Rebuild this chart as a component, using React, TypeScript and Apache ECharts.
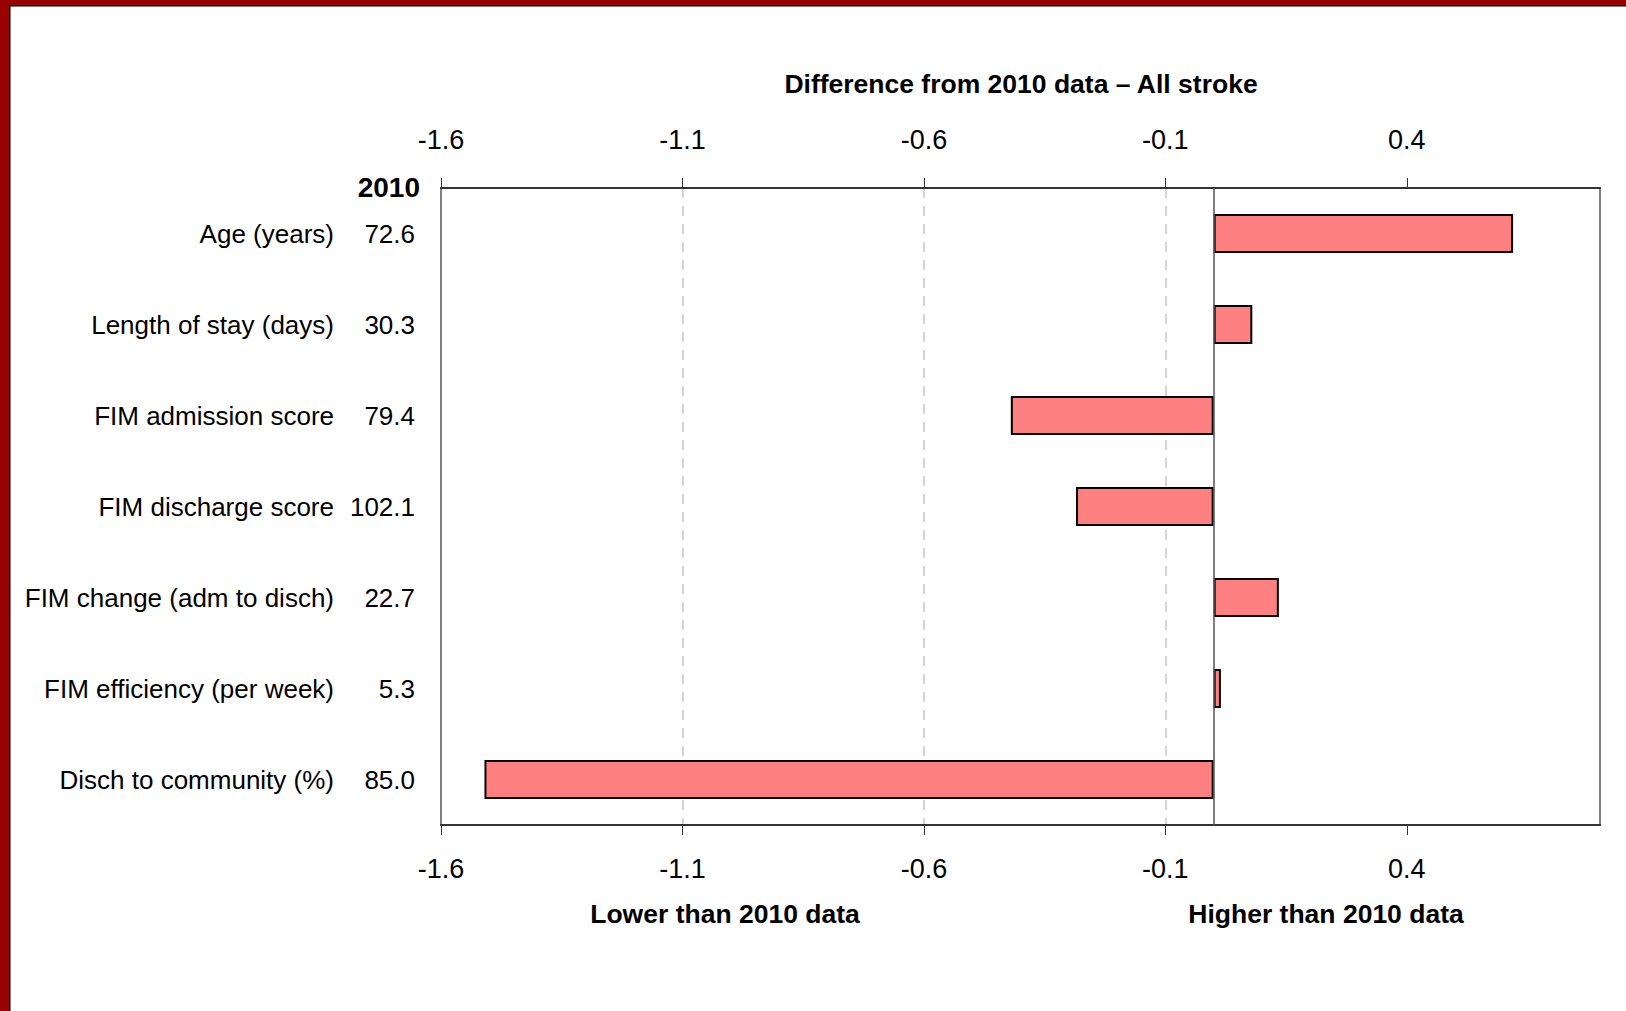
import React, { useEffect, useRef } from "react";
import * as echarts from "echarts";

const categories = [
  "Age (years)",
  "Length of stay (days)",
  "FIM admission score",
  "FIM discharge score",
  "FIM change (adm to disch)",
  "FIM efficiency (per week)",
  "Disch to community (%)",
];
const values2010 = ["72.6", "30.3", "79.4", "102.1", "22.7", "5.3", "85.0"];
const differences = [0.62, 0.08, -0.42, -0.285, 0.135, 0.015, -1.51];
const tickValues = [-1.6, -1.1, -0.6, -0.1, 0.4];
const axisMin = -1.6;
const axisMax = 0.8;

const FONT = "'Liberation Sans', Arial, sans-serif";

export default function App() {
  const ref = useRef<HTMLDivElement>(null);
  useEffect(() => {
    if (!ref.current) return;
    const chart = echarts.init(ref.current, null, { renderer: "svg" });
    const xBase = (position: string, withSplit: boolean, margin: number) => ({
      type: "value",
      position,
      min: axisMin,
      max: axisMax,
      axisLine: { show: true, onZero: false, lineStyle: { color: "#333", width: 2 } },
      axisTick: { show: true, customValues: tickValues, length: 10, lineStyle: { color: "#333", width: 1 } },
      axisLabel: {
        show: true,
        customValues: tickValues,
        margin,
        formatter: (v: number) => v.toFixed(1),
        fontFamily: FONT,
        fontSize: 27,
        color: "#000",
      },
      splitLine: {
        show: withSplit,
        showMinLine: false,
        showMaxLine: false,
        lineStyle: { color: "#c8c8c8", type: [10, 8], width: 1.5 },
      },
    });
    chart.setOption({
      animation: false,
      backgroundColor: "#fff",
      grid: {
        left: 441,
        right: 26,
        top: 188,
        bottom: 186,
        show: true,
        borderColor: "#808080",
        borderWidth: 2,
      },
      xAxis: [xBase("top", true, 35), xBase("bottom", false, 30)],
      yAxis: {
        type: "category",
        data: categories,
        inverse: true,
        axisLine: { show: false },
        axisTick: { show: false },
        splitLine: { show: false },
        axisLabel: {
          margin: 26,
          formatter: (value: string, idx: number) => `{n|${value}}{v|${values2010[idx]}}`,
          rich: {
            n: { fontFamily: FONT, fontSize: 26, color: "#000" },
            v: { fontFamily: FONT, fontSize: 26, color: "#000", width: 81, align: "right" },
          },
        },
      },
      series: [
        {
          type: "bar",
          xAxisIndex: 0,
          data: differences,
          barWidth: 39,
          itemStyle: { color: "#ff8080", borderColor: "#000", borderWidth: 2 },
          markLine: {
            silent: true,
            symbol: ["none", "none"],
            label: { show: false },
            lineStyle: { color: "#555", width: 1.5, type: "solid" },
            data: [{ xAxis: 0 }],
          },
        },
      ],
      graphic: [
        { type: "rect", shape: { x: 0, y: 0, width: 1626, height: 5 }, style: { fill: "#990000" } },
        { type: "rect", shape: { x: 0, y: 0, width: 9, height: 1011 }, style: { fill: "#990000" } },
        { type: "rect", shape: { x: 9, y: 5, width: 1617, height: 1.5 }, style: { fill: "#000" } },
        { type: "rect", shape: { x: 9, y: 5, width: 1.5, height: 1006 }, style: { fill: "#000" } },
        {
          type: "text",
          x: 1021,
          y: 84,
          style: {
            text: "Difference from 2010 data \u2013 All stroke",
            fontFamily: FONT,
            fontSize: 26.5,
            fontWeight: "bold",
            fill: "#000",
            align: "center",
            verticalAlign: "middle",
          },
        },
        {
          type: "text",
          x: 420,
          y: 187,
          style: {
            text: "2010",
            fontFamily: FONT,
            fontSize: 28,
            fontWeight: "bold",
            fill: "#000",
            align: "right",
            verticalAlign: "middle",
          },
        },
        {
          type: "text",
          x: 725,
          y: 914,
          style: {
            text: "Lower than 2010 data",
            fontFamily: FONT,
            fontSize: 26.5,
            fontWeight: "bold",
            fill: "#000",
            align: "center",
            verticalAlign: "middle",
          },
        },
        {
          type: "text",
          x: 1326,
          y: 914,
          style: {
            text: "Higher than 2010 data",
            fontFamily: FONT,
            fontSize: 26.5,
            fontWeight: "bold",
            fill: "#000",
            align: "center",
            verticalAlign: "middle",
          },
        },
      ],
    });
    return () => chart.dispose();
  }, []);
  return (
    <div
      ref={ref}
      style={{ position: "fixed", left: 0, top: 0, width: 1626, height: 1011, background: "#fff" }}
    />
  );
}
